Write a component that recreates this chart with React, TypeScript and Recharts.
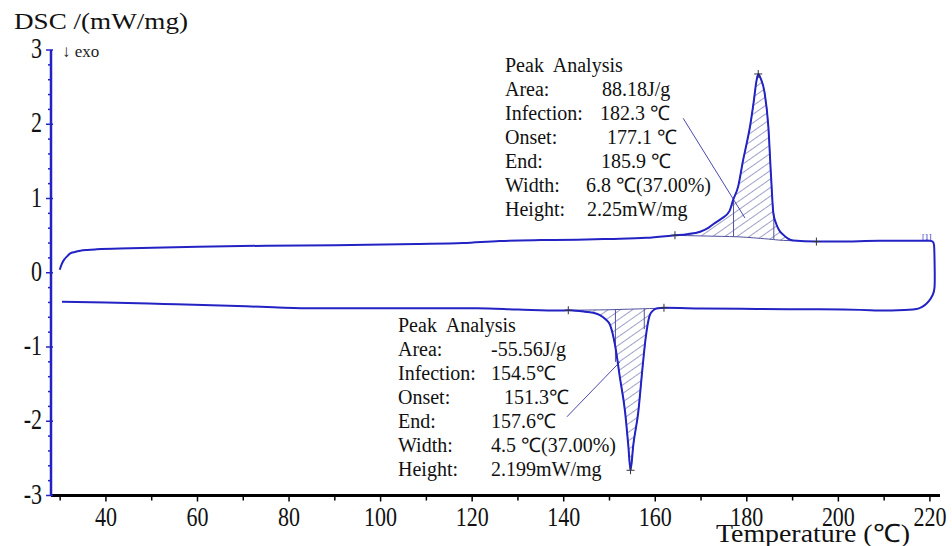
import { ComposedChart, Line, Area, XAxis, YAxis, ReferenceLine, ReferenceDot } from "recharts";

// heating run (upper trace)
const heatTemp = [29.9, 30.3, 30.8, 31.5, 32.2, 33.2, 34.4, 36, 38, 45.3, 60, 75, 90, 108, 118, 126, 135, 143, 150, 158];
const heatDsc = [0.04, 0.11, 0.17, 0.22, 0.26, 0.28, 0.297, 0.308, 0.316, 0.329, 0.351, 0.364, 0.372, 0.387, 0.4, 0.428, 0.44, 0.445, 0.455, 0.47];

// melting peak (hatched) with its integration baseline
const meltTemp = [164.3, 167, 169.8, 171.5, 172.8, 174.5, 176.2, 177, 178.1, 179.2, 180, 180.7, 181.5, 182.1, 182.5, 183, 183.9, 184.7, 185.3, 185.8, 186.3, 187, 188, 189, 190.1];
const meltDsc = [0.505, 0.52, 0.553, 0.6, 0.66, 0.73, 0.83, 0.98, 1.16, 1.52, 1.75, 1.97, 2.3, 2.58, 2.677, 2.62, 2.42, 1.97, 1.29, 0.8, 0.68, 0.58, 0.51, 0.46, 0.435];
const meltBase = [0.505, 0.5, 0.496, 0.494, 0.492, 0.49, 0.488, 0.486, 0.484, 0.48, 0.477, 0.474, 0.47, 0.467, 0.465, 0.462, 0.458, 0.454, 0.45, 0.447, 0.444, 0.44, 0.436, 0.433, 0.432];

const heatEndTemp = [195.2, 200, 209, 215, 220];
const heatEndDsc = [0.42, 0.42, 0.43, 0.43, 0.43];

// turn-around at the top temperature
const turnTemp = [220, 220.6, 220.9, 221, 221.05, 221, 220.6, 219.8, 218.8, 217.6, 216.3];
const turnDsc = [0.43, 0.42, 0.37, 0.2, 0, -0.2, -0.3, -0.38, -0.44, -0.48, -0.495];

// cooling run (lower trace)
const coolTemp = [30.4, 40, 52.6, 65, 76.6, 85.3, 100, 121, 130, 139.2];
const coolDsc = [-0.39, -0.4, -0.42, -0.44, -0.465, -0.479, -0.479, -0.479, -0.495, -0.51];

const crystTemp = [141, 144, 146.5, 147.9, 149.2, 150.1, 151.2, 152.3, 153.4, 154.1, 154.6, 155.2, 156.3, 157.2, 157.9, 158.8, 159.5, 160.3, 161.9];
const crystDsc = [-0.505, -0.52, -0.54, -0.57, -0.63, -0.7, -0.97, -1.42, -1.87, -2.32, -2.66, -2.32, -1.87, -1.29, -0.88, -0.57, -0.51, -0.48, -0.472];
const crystBase = [-0.505, -0.503, -0.501, -0.5, -0.499, -0.498, -0.496, -0.494, -0.492, -0.491, -0.49, -0.489, -0.487, -0.485, -0.484, -0.482, -0.481, -0.479, -0.472];

const coolEndTemp = [170, 182.1, 193.8, 204.7, 210.5, 216.3];
const coolEndDsc = [-0.48, -0.488, -0.492, -0.5, -0.51, -0.495];

const xTicks = [30, 40, 50, 60, 70, 80, 90, 100, 110, 120, 130, 140, 150, 160, 170, 180, 190, 200, 210, 220];
const yTicks = [-3, -2.8, -2.6, -2.4, -2.2, -2, -1.8, -1.6, -1.4, -1.2, -1, -0.8, -0.6, -0.4, -0.2, 0, 0.2, 0.4, 0.6, 0.8, 1, 1.2, 1.4, 1.6, 1.8, 2, 2.2, 2.4, 2.6, 2.8, 3];

const meltMarks = [[164.3, 0.505], [182.5, 2.677], [195.2, 0.42]];
const crystMarks = [[141, -0.505], [154.6, -2.66], [161.9, -0.472]];

// onset / end construction lines inside the hatched peaks: [temp, from, to]
const peakGuides = [
  [177.1, 0.486, 1.0],
  [185.9, 0.447, 0.8],
  [151.3, -0.496, -1.2],
  [157.6, -0.485, -0.76],
];

const meltText = [
  ["Area:", "88.18J/g", 2],
  ["Infection:", "182.3 ℃", 0],
  ["Onset:", "177.1 ℃", 7],
  ["End:", "185.9 ℃", 1],
  ["Width:", "6.8 ℃(37.00%)", -14],
  ["Height:", "2.25mW/mg", -13],
];
const crystText = [
  ["Area:", "-55.56J/g", 0],
  ["Infection:", "154.5℃", 0],
  ["Onset:", "151.3℃", 13],
  ["End:", "157.6℃", 0],
  ["Width:", "4.5 ℃(37.00%)", 0],
  ["Height:", "2.199mW/mg", 0],
];

const toRows = (t: number[], v: number[]) => t.map((x, i) => ({ t: x, v: v[i] }));
const toRange = (t: number[], v: number[], b: number[]) => t.map((x, i) => ({ t: x, r: [b[i], v[i]] }));

const heatData = [
  ...toRows(heatTemp, heatDsc),
  ...toRows(meltTemp, meltDsc),
  ...toRows(heatEndTemp, heatEndDsc),
];
const coolData = [
  ...toRows(coolTemp, coolDsc),
  ...toRows(crystTemp, crystDsc),
  ...toRows(coolEndTemp, coolEndDsc),
];
const turnData = toRows(turnTemp, turnDsc);
const meltArea = toRange(meltTemp, meltDsc, meltBase);
const crystArea = toRange(crystTemp, crystDsc, crystBase);

const SERIF = '"Liberation Serif", "Times New Roman", serif';
const BLUE = "#2323c4";
const HATCH = "#50509e";

function XTick(props: any) {
  const { x, y, payload } = props;
  const major = payload.value % 20 === 0;
  return (
    <g>
      <line x1={x} x2={x} y1={y} y2={y + (major ? 6 : 5)} stroke="#000" strokeWidth={1.5} />
      {major && (
        <text
          transform={`translate(${x},${y + 30}) scale(1,1.25)`}
          textAnchor="middle"
          fontFamily={SERIF}
          fontSize={22}
          fill="#111"
        >
          {payload.value}
        </text>
      )}
    </g>
  );
}

function YTick(props: any) {
  const { x, y, payload } = props;
  const major = Number.isInteger(payload.value);
  return (
    <g>
      <line x1={x - (major ? 5 : 3)} x2={x + (major ? 2 : 0)} y1={y} y2={y} stroke={BLUE} strokeWidth={1.5} />
      {major && (
        <text
          transform={`translate(${x - 9},${y + 8}) scale(1,1.3)`}
          textAnchor="end"
          fontFamily={SERIF}
          fontSize={22}
          fill="#111"
        >
          {payload.value}
        </text>
      )}
    </g>
  );
}

const Plus = (props: any) => (
  <g stroke="#334" strokeWidth={1}>
    <line x1={props.cx - 4} x2={props.cx + 4} y1={props.cy} y2={props.cy} />
    <line x1={props.cx} x2={props.cx} y1={props.cy - 4} y2={props.cy + 4} />
  </g>
);

function Block({ x, valueX, y, rows }: { x: number; valueX: number; y: number; rows: any[] }) {
  return (
    <g fontFamily={SERIF} fontSize={20} fill="#111">
      <text x={x} y={y} xmlSpace="preserve">Peak  Analysis</text>
      {rows.map((r, i) => (
        <g key={i}>
          <text x={x} y={y + 24 * (i + 1)}>{r[0]}</text>
          <text x={valueX + r[2]} y={y + 24 * (i + 1)}>{r[1]}</text>
        </g>
      ))}
    </g>
  );
}

export default function App() {
  return (
    <div style={{ position: "absolute", left: 0, top: 0, width: 952, height: 546, background: "#fff" }}>
      <ComposedChart width={952} height={546} margin={{ top: 50, right: 12, bottom: 0, left: 0 }}>
        <defs>
          <pattern id="hatch" patternUnits="userSpaceOnUse" width={7} height={7} patternTransform="rotate(55)">
            <line x1={0} y1={0} x2={0} y2={7} stroke={HATCH} strokeWidth={1.1} />
          </pattern>
        </defs>
        <XAxis
          type="number"
          dataKey="t"
          domain={[28, 222.2]}
          allowDataOverflow
          ticks={xTicks}
          interval={0}
          height={50.5}
          tickSize={0}
          tickMargin={0}
          tick={<XTick />}
          axisLine={{ stroke: "#000", strokeWidth: 3 }}
          tickLine={false}
        />
        <YAxis
          type="number"
          domain={[-3, 3]}
          allowDataOverflow
          ticks={yTicks}
          interval={0}
          width={51}
          tickSize={0}
          tickMargin={0}
          tick={<YTick />}
          axisLine={{ stroke: BLUE, strokeWidth: 2.5 }}
          tickLine={false}
        />
        <Area data={meltArea} dataKey="r" type="monotone" fill="url(#hatch)" fillOpacity={1} stroke={HATCH} strokeWidth={1} isAnimationActive={false} dot={false} activeDot={false} />
        <Area data={crystArea} dataKey="r" type="monotone" fill="url(#hatch)" fillOpacity={1} stroke={HATCH} strokeWidth={1} isAnimationActive={false} dot={false} activeDot={false} />
        {peakGuides.map((g, i) => (
          <ReferenceLine key={`g${i}`} segment={[{ x: g[0], y: g[1] }, { x: g[0], y: g[2] }]} stroke={HATCH} strokeWidth={1} ifOverflow="visible" />
        ))}
        <ReferenceLine segment={[{ x: 166.1, y: 2.08 }, { x: 179.6, y: 0.737 }]} stroke="#4a4ab0" strokeWidth={1} ifOverflow="visible" />
        <ReferenceLine segment={[{ x: 140.7, y: -1.94 }, { x: 152.3, y: -1.2 }]} stroke="#4a4ab0" strokeWidth={1} ifOverflow="visible" />
        <Line data={heatData} dataKey="v" type="monotone" stroke={BLUE} strokeWidth={2} dot={false} activeDot={false} isAnimationActive={false} />
        <Line data={turnData} dataKey="v" type="natural" stroke={BLUE} strokeWidth={2} dot={false} activeDot={false} isAnimationActive={false} />
        <Line data={coolData} dataKey="v" type="monotone" stroke={BLUE} strokeWidth={2} dot={false} activeDot={false} isAnimationActive={false} />
        {[...meltMarks, ...crystMarks].map((m, i) => (
          <ReferenceDot key={i} x={m[0]} y={m[1]} r={4} shape={<Plus />} ifOverflow="visible" />
        ))}
      </ComposedChart>
      <svg width={952} height={546} style={{ position: "absolute", left: 0, top: 0, pointerEvents: "none" }}>
        <text x={14} y={29} fontFamily={SERIF} fontSize={23} fill="#111" textLength={174} lengthAdjust="spacingAndGlyphs">
          DSC /(mW/mg)
        </text>
        <text x={62} y={57} fontFamily={SERIF} fontSize={17} fill="#222">↓ exo</text>
        <text x={922} y={240} fontFamily={SERIF} fontSize={8} fill={BLUE}>[1]</text>
        <text
          transform="translate(716,542) scale(1,1.15)"
          fontFamily={SERIF}
          fontSize={22}
          fill="#111"
          textLength={194}
          lengthAdjust="spacingAndGlyphs"
        >
          Temperature (℃)
        </text>
        <Block x={505} valueX={600} y={72} rows={meltText} />
        <Block x={398} valueX={491} y={332} rows={crystText} />
      </svg>
    </div>
  );
}
